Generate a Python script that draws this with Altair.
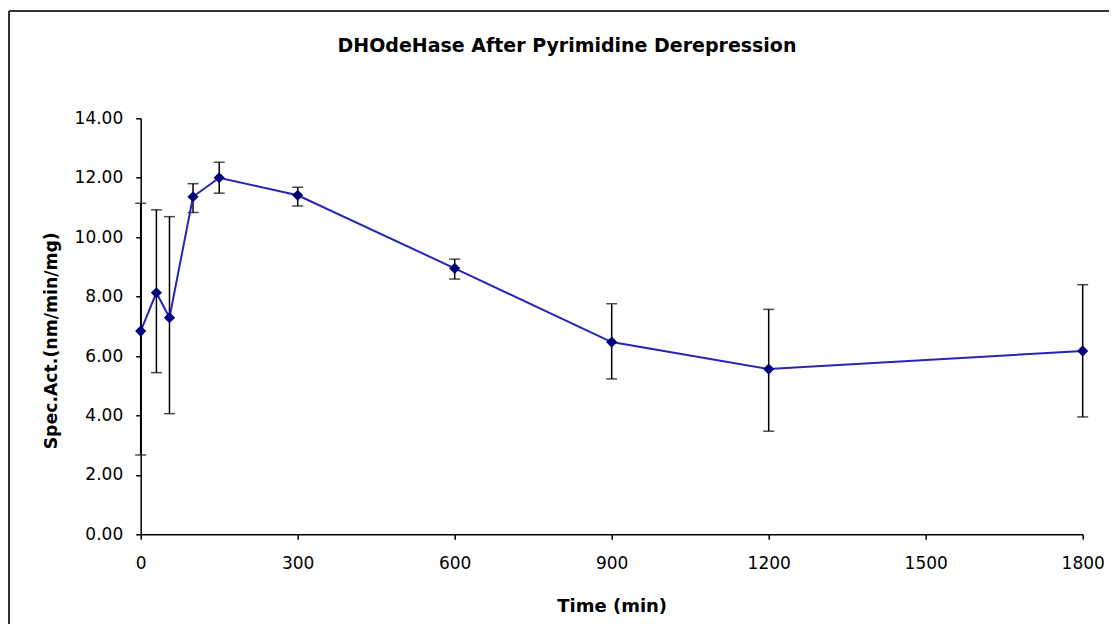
import altair as alt
import pandas as pd

time_min = [0, 30, 55, 100, 150, 300, 600, 900, 1200, 1800]
spec_act = [6.84, 8.13, 7.29, 11.36, 12.00, 11.41, 8.95, 6.47, 5.56, 6.17]
err_high = [11.14, 10.92, 10.69, 11.80, 12.52, 11.68, 9.26, 7.76, 7.57, 8.40]
err_low = [2.67, 5.44, 4.06, 10.83, 11.48, 11.05, 8.59, 5.23, 3.47, 3.95]
x_ticks = [0, 300, 600, 900, 1200, 1500, 1800]
y_ticks = [0, 2, 4, 6, 8, 10, 12, 14]
title_text = "DHOdeHase After Pyrimidine Derepression"

df = pd.DataFrame({"t": time_min, "v": spec_act, "hi": err_high, "lo": err_low})

W, H = 942, 416
FONT = "DejaVu Sans"

xs = alt.Scale(domain=[0, 1800], nice=False, zero=False)
ys = alt.Scale(domain=[0, 14], nice=False)

x_axis = alt.Axis(
    values=x_ticks, format="d", title="Time (min)", grid=False,
    domainColor="black", domainWidth=1.5, tickColor="black", tickWidth=1.5,
    tickSize=5, labelPadding=16, labelFont=FONT, labelFontSize=17,
    labelColor="black", labelFlush=False,
    titleFont=FONT, titleFontSize=18, titleFontWeight="bold", titleColor="black",
    titleX=W / 2, titleY=77, titleBaseline="alphabetic", titleAlign="center",
)
y_axis = alt.Axis(
    values=y_ticks, format=".2f", title="Spec.Act.(nm/min/mg)", grid=False,
    domainColor="black", domainWidth=1.5, tickColor="black", tickWidth=1.5,
    tickSize=5, labelPadding=13, labelFont=FONT, labelFontSize=17,
    labelColor="black", labelFlush=False,
    titleFont=FONT, titleFontSize=17.3, titleFontWeight="bold", titleColor="black",
    titleX=-84, titleY=222, titleBaseline="alphabetic", titleAlign="center", titleAngle=270,
)

base = alt.Chart(df)

bars = base.mark_rule(color="black", strokeWidth=1.5).encode(
    x=alt.X("t:Q", scale=xs, axis=x_axis),
    y=alt.Y("lo:Q", scale=ys, axis=y_axis),
    y2="hi:Q",
)
cap_hi = base.mark_tick(color="black", thickness=1.5, size=11, orient="horizontal").encode(
    x=alt.X("t:Q", scale=xs), y=alt.Y("hi:Q", scale=ys)
)
cap_lo = base.mark_tick(color="black", thickness=1.5, size=11, orient="horizontal").encode(
    x=alt.X("t:Q", scale=xs), y=alt.Y("lo:Q", scale=ys)
)
line = base.mark_line(color="#2626B4", strokeWidth=2).encode(
    x=alt.X("t:Q", scale=xs), y=alt.Y("v:Q", scale=ys)
)
pts = base.mark_point(shape="diamond", filled=True, size=125, color="#00007A", opacity=1).encode(
    x=alt.X("t:Q", scale=xs), y=alt.Y("v:Q", scale=ys)
)

frame_left = base.mark_rule(color="#333333", strokeWidth=2).encode(
    x=alt.value(-131.7), y=alt.value(-107.3), y2=alt.value(700)
)
frame_top = base.mark_rule(color="#333333", strokeWidth=2).encode(
    x=alt.value(-131.7), x2=alt.value(1200), y=alt.value(-107.3)
)
title = alt.Chart(pd.DataFrame({"title": [title_text]})).mark_text(
    font=FONT, fontSize=19, fontWeight="bold", color="black",
    align="center", baseline="alphabetic",
).encode(text="title:N", x=alt.value(426.3), y=alt.value(-66))

chart = alt.layer(frame_left, frame_top, bars, cap_hi, cap_lo, line, pts, title).properties(
    width=W, height=H,
    autosize=alt.AutoSizeParams(type="none"),
    padding={"left": 132.7, "top": 110.3, "right": 26, "bottom": 90},
).configure_view(stroke=None)

chart.save("out.html", embed_options={"renderer": "svg", "actions": False})
